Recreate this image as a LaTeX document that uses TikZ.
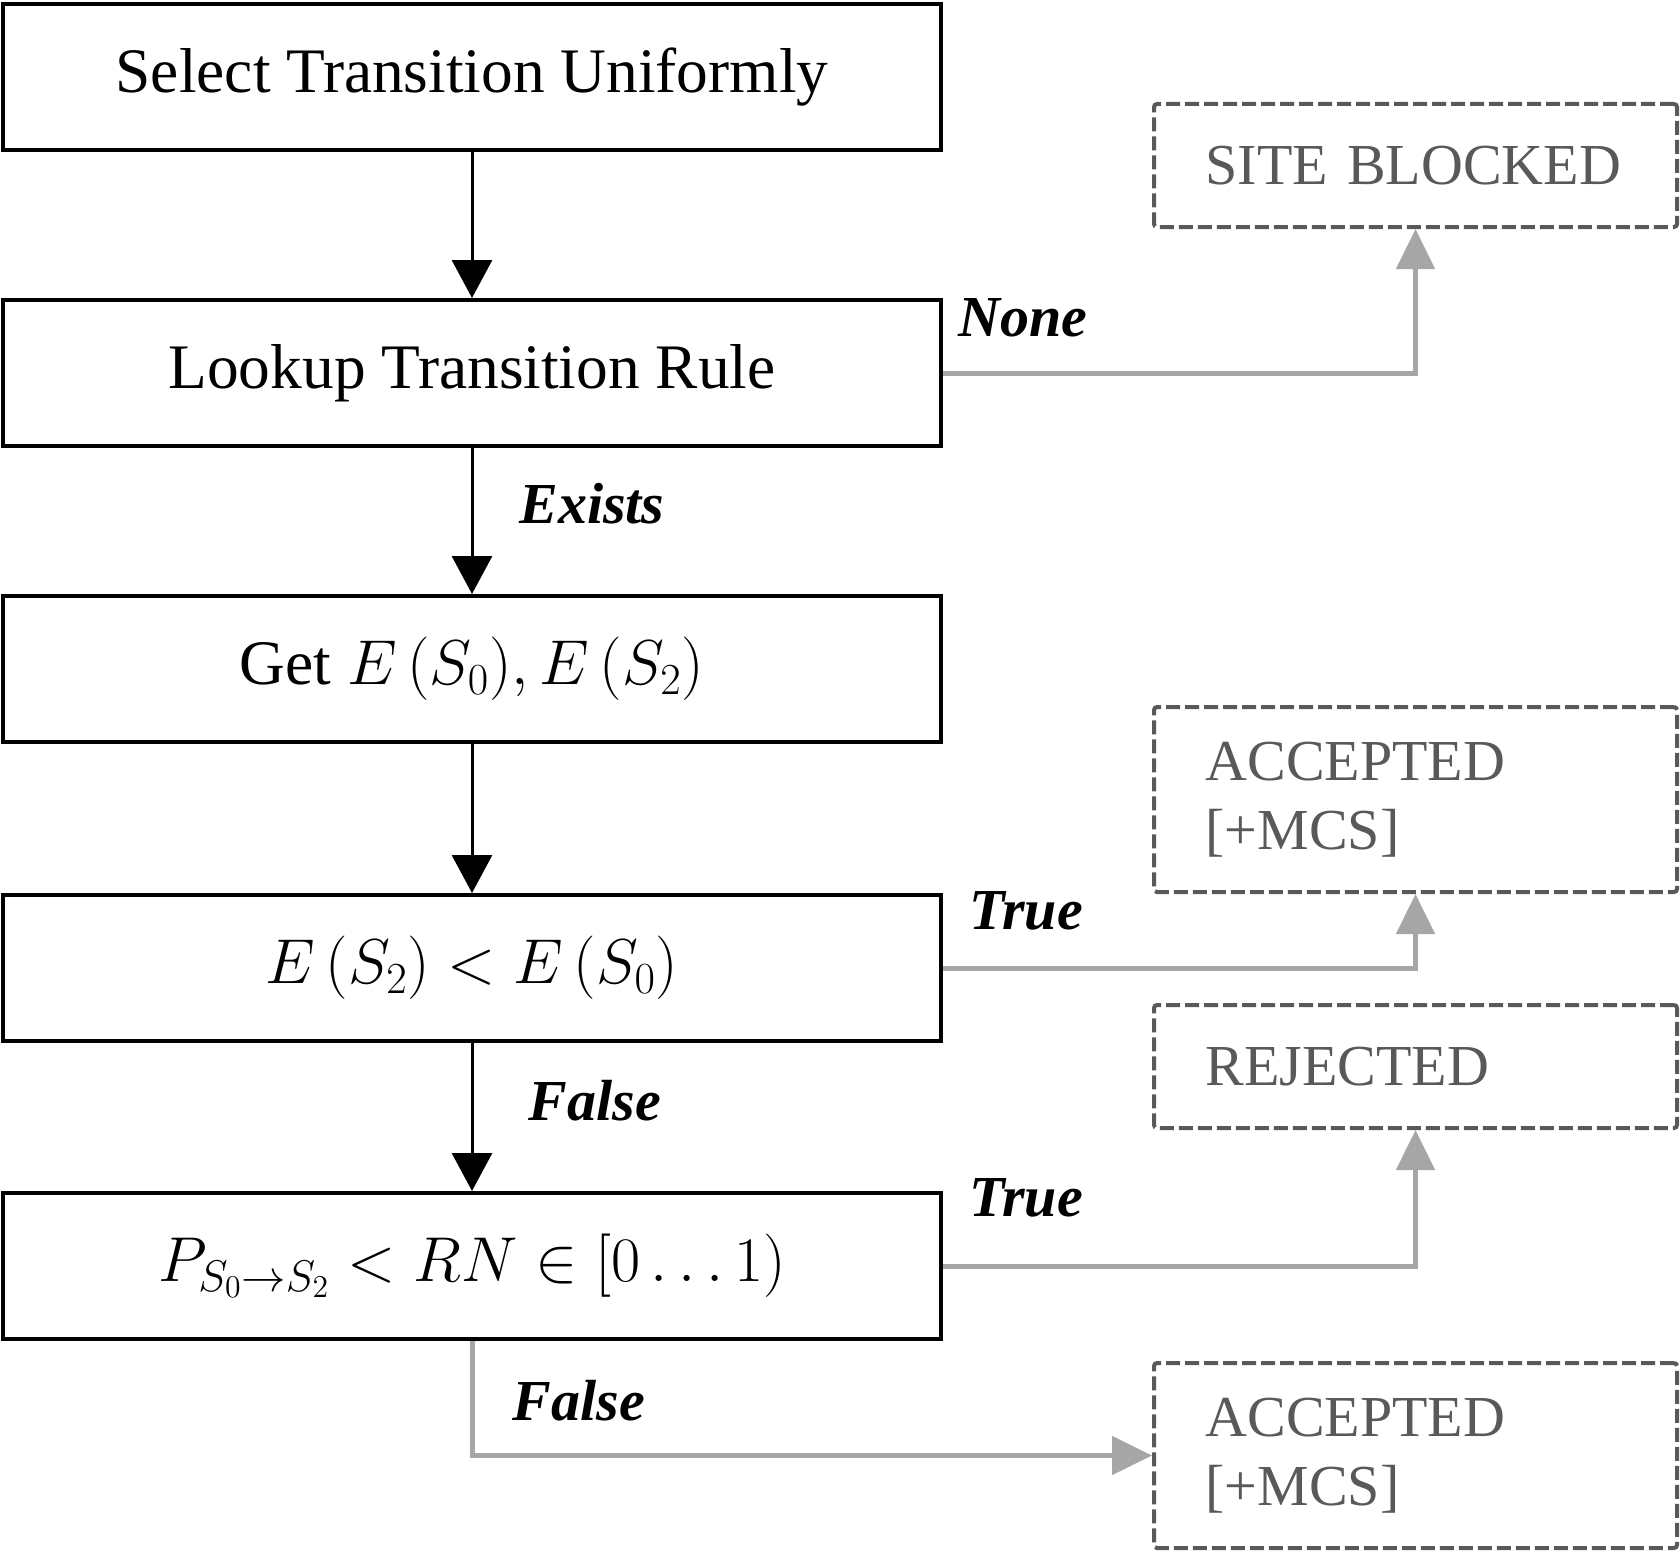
\RequirePackage{fix-cm}
\documentclass[tikz,border=0pt]{standalone}
\usepackage{fontspec}
\setmainfont{Liberation Serif}
\usetikzlibrary{arrows.meta}
\definecolor{arrgray}{HTML}{A6A6A6}
\definecolor{dashgray}{HTML}{595959}
\begin{document}
\begin{tikzpicture}[x=0.5pt,y=-0.5pt,
  procbox/.style={draw=black, line width=2pt, fill=white, minimum width=469pt, minimum height=73pt, inner sep=0pt,
    font=\fontsize{31.7}{38}\selectfont},
  endbox/.style={draw=dashgray, text=dashgray, line width=2pt, dash pattern=on 7pt off 2.5pt, rounded corners=1.5pt,
    minimum width=261.5pt, inner sep=0pt, text width=210pt, align=left,
    font=\fontsize{29}{34.5}\selectfont},
  blackarrow/.style={draw=black, line width=1.5pt, -{Triangle[width=20pt,length=19pt]}},
  grayarrow/.style={draw=arrgray, line width=2.5pt, -{Triangle[width=19pt,length=20pt]}},
  edgelabel/.style={font=\fontsize{29}{34}\selectfont\bfseries\itshape, inner sep=0pt}
]
\useasboundingbox (0,0) rectangle (1680,1552);

\node[procbox] (b1) at (472,77) {Select Transition Uniformly};
\node[procbox] (b2) at (472,373) {Lookup Transition Rule};
\node[procbox] (b3) at (472,669) {Get $E\,(S_0), E\,(S_2)$};
\node[procbox] (b4) at (472,968) {$E\,(S_2) < E\,(S_0)$};
\node[procbox] (b5) at (472,1266) {$P_{S_0\rightarrow S_2} < RN \in [0 \ldots 1)$};

\node[endbox, minimum height=61.5pt] (sb) at (1415.5,165.5) {SITE BLOCKED};
\node[endbox, minimum height=92.5pt] (acc1) at (1415.5,799.5) {ACCEPTED\\{}[+MCS]};
\node[endbox, minimum height=61.5pt] (rej) at (1415.5,1066.5) {REJECTED};
\node[endbox, minimum height=92.5pt] (acc2) at (1415.5,1455.5) {ACCEPTED\\{}[+MCS]};

\draw[blackarrow] (b1.south) -- (b2.north);
\draw[blackarrow] (b2.south) -- (b3.north);
\draw[blackarrow] (b3.south) -- (b4.north);
\draw[blackarrow] (b4.south) -- (b5.north);

\draw[grayarrow] (b2.east) -| (sb.south);
\draw[grayarrow] (b4.east) -| (acc1.south);
\draw[grayarrow] (b5.east) -| (rej.south);
\draw[grayarrow] (b5.south) |- (acc2.west);

\node[edgelabel] (lnone) at (1023,318) {None};
\node[edgelabel] (lexists) at (592,504) {Exists};
\node[edgelabel] (ltrue1) at (1026,911) {True};
\node[edgelabel] (lfalse1) at (595,1101) {False};
\node[edgelabel] (ltrue2) at (1026,1198) {True};
\node[edgelabel] (lfalse2) at (579,1401) {False};
\end{tikzpicture}
\end{document}
